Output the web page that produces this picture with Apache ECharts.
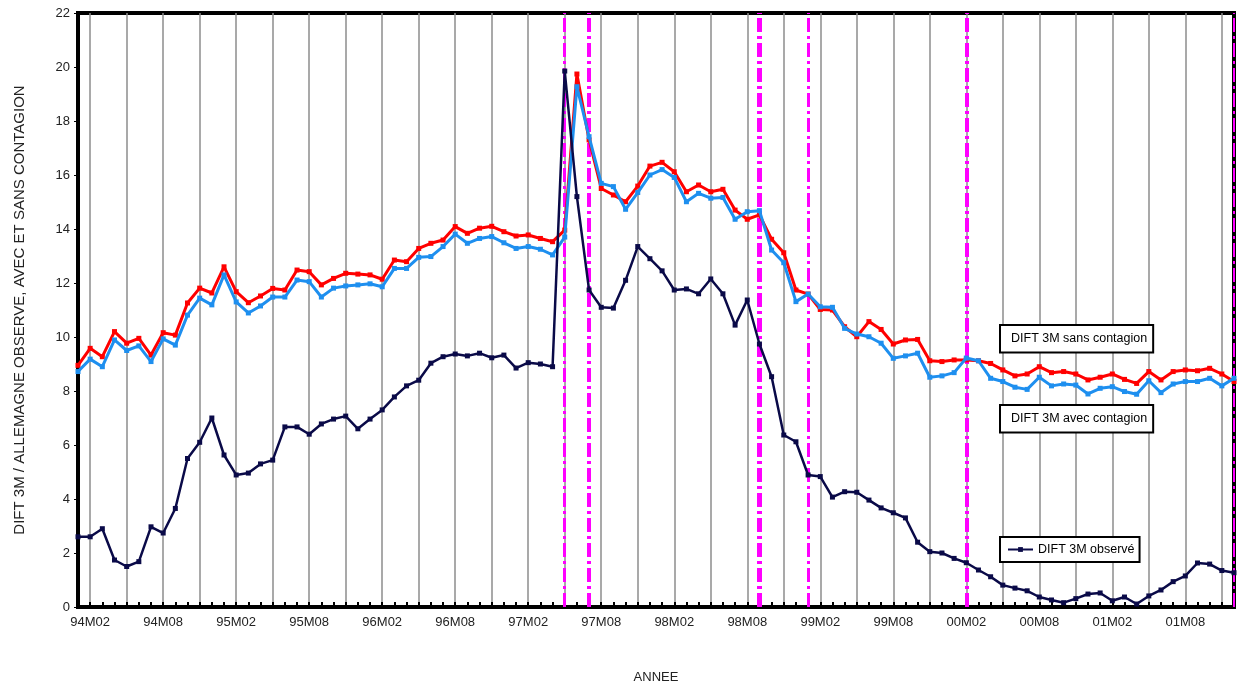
<!DOCTYPE html>
<html>
<head>
    <meta charset="UTF-8">
    <title>DIFT 3M</title>
    <script type="text/javascript" src="https://cdn.jsdelivr.net/npm/echarts@6/dist/echarts.min.js"></script>
    <style>
        html, body { margin: 0; padding: 0; background: #ffffff; }
        #chart { width: 1241px; height: 689px; }
    </style>
</head>
<body>
<div id="chart"></div>
<script>
// mois 94M01 .. 01M12
var years = ['94', '95', '96', '97', '98', '99', '00', '01'];
var months = ['01', '02', '03', '04', '05', '06', '07', '08', '09', '10', '11', '12'];
var categories = [];
years.forEach(function (y) {
    months.forEach(function (m) { categories.push(y + 'M' + m); });
});

var sansContagion = [8.95, 9.58, 9.27, 10.2, 9.77, 9.95, 9.33, 10.16, 10.07, 11.26, 11.81, 11.63,
    12.6, 11.68, 11.27, 11.52, 11.8, 11.74, 12.48, 12.42, 11.93, 12.17, 12.36, 12.33,
    12.3, 12.14, 12.85, 12.79, 13.28, 13.47, 13.59, 14.09, 13.84, 14.03, 14.1, 13.9,
    13.74, 13.78, 13.65, 13.53, 13.96, 19.74, 17.3, 15.5, 15.26, 15.01, 15.59, 16.33,
    16.47, 16.12, 15.38, 15.63, 15.38, 15.47, 14.7, 14.36, 14.52, 13.62, 13.12, 11.74,
    11.59, 11.02, 11.0, 10.38, 10.01, 10.57, 10.28, 9.74, 9.89, 9.91, 9.12, 9.09,
    9.15, 9.15, 9.12, 9.02, 8.78, 8.56, 8.63, 8.9, 8.68, 8.72, 8.63, 8.41,
    8.51, 8.63, 8.43, 8.28, 8.72, 8.41, 8.72, 8.78, 8.75, 8.84, 8.63, 8.35];

var avecContagion = [8.72, 9.18, 8.9, 9.89, 9.5, 9.67, 9.09, 9.93, 9.7, 10.81, 11.44, 11.19,
    12.3, 11.3, 10.89, 11.15, 11.48, 11.48, 12.11, 12.05, 11.48, 11.81, 11.89, 11.93,
    11.97, 11.86, 12.54, 12.54, 12.95, 12.98, 13.35, 13.81, 13.47, 13.65, 13.72, 13.49,
    13.28, 13.35, 13.25, 13.04, 13.7, 19.27, 17.42, 15.69, 15.57, 14.73, 15.35, 16.0,
    16.2, 15.91, 15.01, 15.32, 15.14, 15.17, 14.36, 14.64, 14.68, 13.22, 12.75, 11.31,
    11.59, 11.12, 11.1, 10.32, 10.11, 10.01, 9.77, 9.21, 9.3, 9.4, 8.51, 8.56,
    8.68, 9.22, 9.12, 8.47, 8.35, 8.14, 8.06, 8.51, 8.19, 8.26, 8.22, 7.89,
    8.1, 8.16, 7.98, 7.88, 8.38, 7.94, 8.26, 8.35, 8.35, 8.47, 8.19, 8.47];

var observe = [2.6, 2.6, 2.9, 1.74, 1.5, 1.68, 2.97, 2.74, 3.65, 5.5, 6.1, 7.0,
    5.63, 4.89, 4.96, 5.3, 5.44, 6.67, 6.67, 6.4, 6.78, 6.96, 7.07, 6.6,
    6.96, 7.3, 7.78, 8.19, 8.4, 9.03, 9.27, 9.37, 9.3, 9.4, 9.23, 9.33,
    8.85, 9.05, 9.0, 8.9, 19.85, 15.2, 11.74, 11.1, 11.07, 12.1, 13.35, 12.9,
    12.45, 11.74, 11.78, 11.6, 12.15, 11.6, 10.44, 11.37, 9.74, 8.53, 6.37, 6.12,
    4.89, 4.83, 4.07, 4.27, 4.25, 3.96, 3.67, 3.49, 3.3, 2.4, 2.05, 2.0,
    1.8, 1.64, 1.37, 1.12, 0.81, 0.7, 0.6, 0.37, 0.26, 0.16, 0.31, 0.48,
    0.52, 0.23, 0.37, 0.11, 0.41, 0.63, 0.94, 1.15, 1.63, 1.59, 1.35, 1.27];

// lignes verticales de rupture
var ruptures = ['97M05', '97M07', '98M09', '99M01', '00M02', '01M12'];
var ruptureWidths = [3, 4, 5, 3, 4, 2];

var FONT = '"Liberation Sans", Arial, sans-serif';

var chart = echarts.init(document.getElementById('chart'), null, {renderer: 'canvas'});

var legendBox = {
    orient: 'vertical',
    selectedMode: false,
    backgroundColor: '#ffffff',
    borderColor: '#000000',
    borderWidth: 2,
    padding: [7, 6, 7, 6],
    textStyle: {color: '#000000', fontSize: 12.5, fontFamily: FONT}
};

var option = {
    backgroundColor: '#ffffff',
    animation: false,
    textStyle: {fontFamily: FONT},
    grid: {
        left: 78, right: 7, top: 13, bottom: 76,
        show: true, borderColor: '#000000', borderWidth: 4
    },
    legend: [
        Object.assign({}, legendBox, {
            left: 1000, top: 325, itemWidth: 0, itemGap: 0,
            data: [{name: 'DIFT 3M sans contagion', icon: 'none'}]
        }),
        Object.assign({}, legendBox, {
            left: 1000, top: 405, itemWidth: 0, itemGap: 0,
            data: [{name: 'DIFT 3M avec contagion', icon: 'none'}]
        }),
        Object.assign({}, legendBox, {
            left: 1000, top: 537, itemWidth: 25, itemHeight: 6,
            padding: [6, 5, 6, 7],
            data: ['DIFT 3M observé']
        })
    ],
    xAxis: {
        type: 'category',
        data: categories,
        boundaryGap: false,
        name: 'ANNEE',
        nameLocation: 'middle',
        nameGap: 64,
        nameTextStyle: {color: '#222', fontSize: 13},
        axisLine: {lineStyle: {color: '#000', width: 4}},
        axisTick: {
            show: true, inside: true, length: 5, interval: 0,
            lineStyle: {color: '#000', width: 2}
        },
        axisLabel: {
            color: '#222', fontSize: 13, margin: 9,
            interval: function (i) { return i % 6 === 1; }
        },
        splitLine: {
            show: true,
            interval: function (i) { return i % 3 === 1; },
            lineStyle: {color: '#8c8c8c', width: 1.5}
        }
    },
    yAxis: {
        type: 'value',
        min: 0, max: 22, interval: 2,
        name: 'DIFT 3M / ALLEMAGNE OBSERVE, AVEC ET SANS CONTAGION',
        nameLocation: 'middle',
        nameGap: 51,
        nameTextStyle: {color: '#222', fontSize: 15},
        axisLine: {show: true, lineStyle: {color: '#000', width: 4}},
        axisTick: {show: true, length: 4, lineStyle: {color: '#000', width: 1}},
        axisLabel: {color: '#222', fontSize: 13, margin: 8},
        splitLine: {show: false}
    },
    series: [
        {
            name: 'DIFT 3M sans contagion',
            type: 'line',
            data: sansContagion,
            z: 3,
            symbol: 'rect', symbolSize: 5, showSymbol: true,
            lineStyle: {color: '#ff0000', width: 3},
            itemStyle: {color: '#ff0000'},
            markLine: {
                silent: true,
                symbol: ['none', 'none'],
                label: {show: false},
                z: 2,
                data: ruptures.map(function (r, k) {
                    return {
                        xAxis: r,
                        lineStyle: {color: '#ff00ff', width: ruptureWidths[k], type: [14, 4, 3, 4]}
                    };
                })
            }
        },
        {
            name: 'DIFT 3M avec contagion',
            type: 'line',
            data: avecContagion,
            z: 4,
            symbol: 'rect', symbolSize: 5, showSymbol: true,
            lineStyle: {color: '#1e8fef', width: 3},
            itemStyle: {color: '#1e8fef'}
        },
        {
            name: 'DIFT 3M observé',
            type: 'line',
            data: observe,
            z: 5,
            symbol: 'rect', symbolSize: 5, showSymbol: true,
            lineStyle: {color: '#0a0a48', width: 2.5},
            itemStyle: {color: '#0a0a48'}
        }
    ]
};

chart.setOption(option);
</script>
</body>
</html>
